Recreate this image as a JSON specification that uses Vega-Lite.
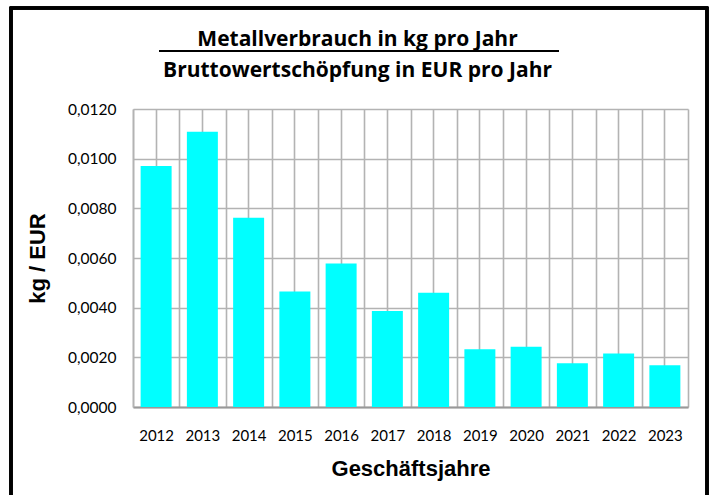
{
  "$schema": "https://vega.github.io/schema/vega-lite/v6.json",
  "width": 555,
  "height": 298,
  "autosize": {"type": "none"},
  "padding": {"left": 133, "top": 109, "right": 26, "bottom": 88},
  "background": "white",
  "config": {
    "view": {"stroke": null},
    "axis": {"labelFont": "Lato", "labelColor": "#000000", "titleColor": "#000000"}
  },
  "title": {
    "text": ["Metallverbrauch in kg pro Jahr", "Bruttowertschöpfung in EUR pro Jahr"],
    "font": "Open Sans",
    "fontSize": 21,
    "fontWeight": "bold",
    "color": "#000000",
    "anchor": "middle",
    "baseline": "alphabetic",
    "dx": -53,
    "lineHeight": 31,
    "offset": -91
  },
  "data": {
    "values": [
      {"jahr": "2012", "wert": 0.00970},
      {"jahr": "2013", "wert": 0.01108},
      {"jahr": "2014", "wert": 0.00762},
      {"jahr": "2015", "wert": 0.00465},
      {"jahr": "2016", "wert": 0.00578},
      {"jahr": "2017", "wert": 0.00387},
      {"jahr": "2018", "wert": 0.00460},
      {"jahr": "2019", "wert": 0.00233},
      {"jahr": "2020", "wert": 0.00243},
      {"jahr": "2021", "wert": 0.00176},
      {"jahr": "2022", "wert": 0.00215},
      {"jahr": "2023", "wert": 0.00168}
    ]
  },
  "layer": [
    {
      "mark": {"type": "bar", "color": "#00FFFF", "width": {"band": 0.67}},
      "encoding": {
        "x": {
          "field": "jahr", "type": "nominal",
          "scale": {"paddingInner": 0, "paddingOuter": 0},
          "axis": {
            "title": "Geschäftsjahre",
            "titleFont": "Liberation Sans", "titleFontSize": 22, "titleFontWeight": "bold",
            "titlePadding": 15,
            "labelAngle": 0, "labelFontSize": 15, "labelPadding": 21,
            "ticks": false, "tickBand": "extent",
            "grid": true, "gridColor": "#b3b3b3", "gridWidth": 1.6,
            "domainColor": "#999999", "domainWidth": 2
          }
        },
        "y": {
          "field": "wert", "type": "quantitative",
          "scale": {"domain": [0, 0.012]},
          "axis": {
            "title": "kg / EUR",
            "titleFont": "Liberation Sans", "titleFontSize": 22, "titleFontWeight": "bold",
            "titleX": -96, "titleY": 149, "titleAngle": -90, "titleAlign": "center", "titleBaseline": "middle",
            "values": [0, 0.002, 0.004, 0.006, 0.008, 0.010, 0.012],
            "labelExpr": "replace(format(datum.value, '.4f'), '.', ',')",
            "labelFontSize": 15.5, "labelPadding": 17,
            "ticks": false,
            "grid": true, "gridColor": "#b3b3b3", "gridWidth": 1.6,
            "domainColor": "#b3b3b3", "domainWidth": 1.6
          }
        }
      }
    },
    {
      "mark": {"type": "tick", "opacity": 0},
      "encoding": {
        "x": {
          "field": "jahr", "type": "nominal",
          "axis": {
            "title": null, "labels": false, "ticks": false, "domain": false,
            "tickBand": "center",
            "grid": true, "gridColor": "#b3b3b3", "gridWidth": 1.6
          }
        }
      }
    },
    {
      "mark": {"type": "rule", "color": "#000000", "strokeWidth": 1.6},
      "encoding": {
        "x": {"value": 26},
        "x2": {"value": 426},
        "y": {"value": -58}
      }
    },
    {
      "mark": {"type": "rect", "fill": null, "stroke": "#000000", "strokeWidth": 2.5},
      "encoding": {
        "x": {"value": -122},
        "x2": {"value": 574},
        "y": {"value": -101},
        "y2": {"value": 400}
      }
    }
  ],
  "resolve": {"axis": {"x": "independent"}}
}
